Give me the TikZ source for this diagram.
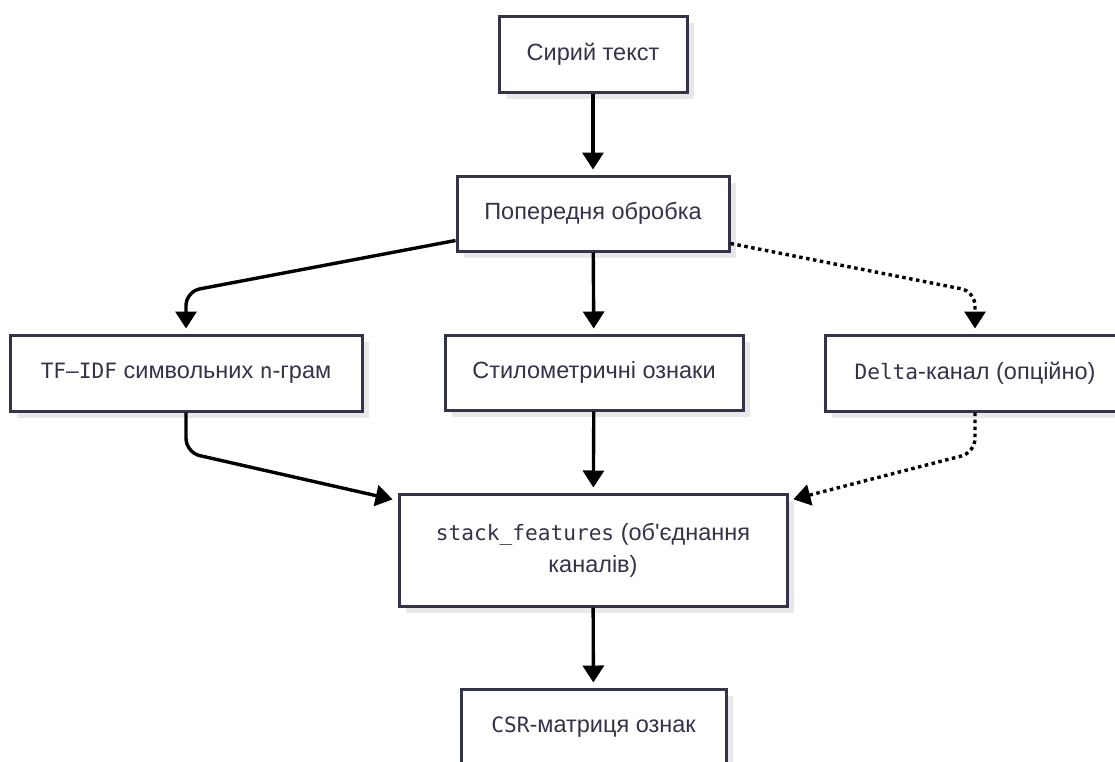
\documentclass[tikz,border=0pt]{standalone}
\usepackage{fontspec}
\setmainfont{Liberation Sans}
\newfontfamily\codefont{DejaVu Sans Mono}[Scale=0.9]
\usetikzlibrary{arrows.meta,shadows,calc}
\definecolor{edgeink}{HTML}{33334A}
\definecolor{labelink}{HTML}{33334A}
\definecolor{shade}{HTML}{E8E8E8}

\tikzset{
  stage/.style={draw=edgeink, line width=3pt, fill=white, text=labelink,
    font=\fontsize{23.5}{32}\selectfont, inner sep=0pt, align=center,
    drop shadow={shadow xshift=7pt, shadow yshift=-7pt, fill=shade, opacity=1}},
  flow/.style={line width=3.4pt, -{Triangle[length=17pt,width=21pt]},
    shorten >=5pt, rounded corners=14pt},
  optflow/.style={flow, dash pattern=on 3.5pt off 3.5pt},
}

\begin{document}
\begin{tikzpicture}[x=1pt,y=-1pt]
\clip (0,0) rectangle (1115,761);
\fill[white] (0,0) rectangle (1115,761);

% processing stages
\node[stage, minimum width=188pt, minimum height=76pt] (raw) at (593,54) {Сирий текст};
\node[stage, minimum width=272pt, minimum height=75pt] (prep) at (593,213.5) {Попередня обробка};
\node[stage, minimum width=352pt, minimum height=76pt] (tfidf) at (186,373)
  {{\codefont TF–IDF} символьних {\codefont n}-грам};
\node[stage, minimum width=298pt, minimum height=75pt] (stylo) at (594,372.5) {Стилометричні ознаки};
\node[stage, minimum width=300pt, minimum height=76pt] (delta) at (975,373)
  {{\codefont Delta}-канал (опційно)};
\node[stage, minimum width=388pt, minimum height=112pt] (stack) at (593,550)
  {{\codefont stack\_features} (об\textquotesingle єднання\\каналів)};
\node[stage, minimum width=265pt, minimum height=76pt] (csr) at (593.5,727) {{\codefont CSR}-матриця ознак};

% connectors
\draw[flow] (raw) -- (prep);
\draw[flow] ([yshift=-27pt]prep.west) -- ([yshift=42pt]tfidf.north) -- (tfidf.north);
\draw[flow] (prep) -- (stylo);
\draw[optflow] ([yshift=-30pt]prep.east) -- ([yshift=42pt]delta.north) -- (delta.north);
\draw[flow] (tfidf.south) -- ([yshift=-40pt]tfidf.south) -- ([yshift=-8pt]stack.north west);
\draw[flow] (stylo) -- (stack);
\draw[optflow] (delta.south) -- ([yshift=-40pt]delta.south) -- ([yshift=-8pt]stack.north east);
\draw[flow] (stack) -- (csr);
\end{tikzpicture}
\end{document}
